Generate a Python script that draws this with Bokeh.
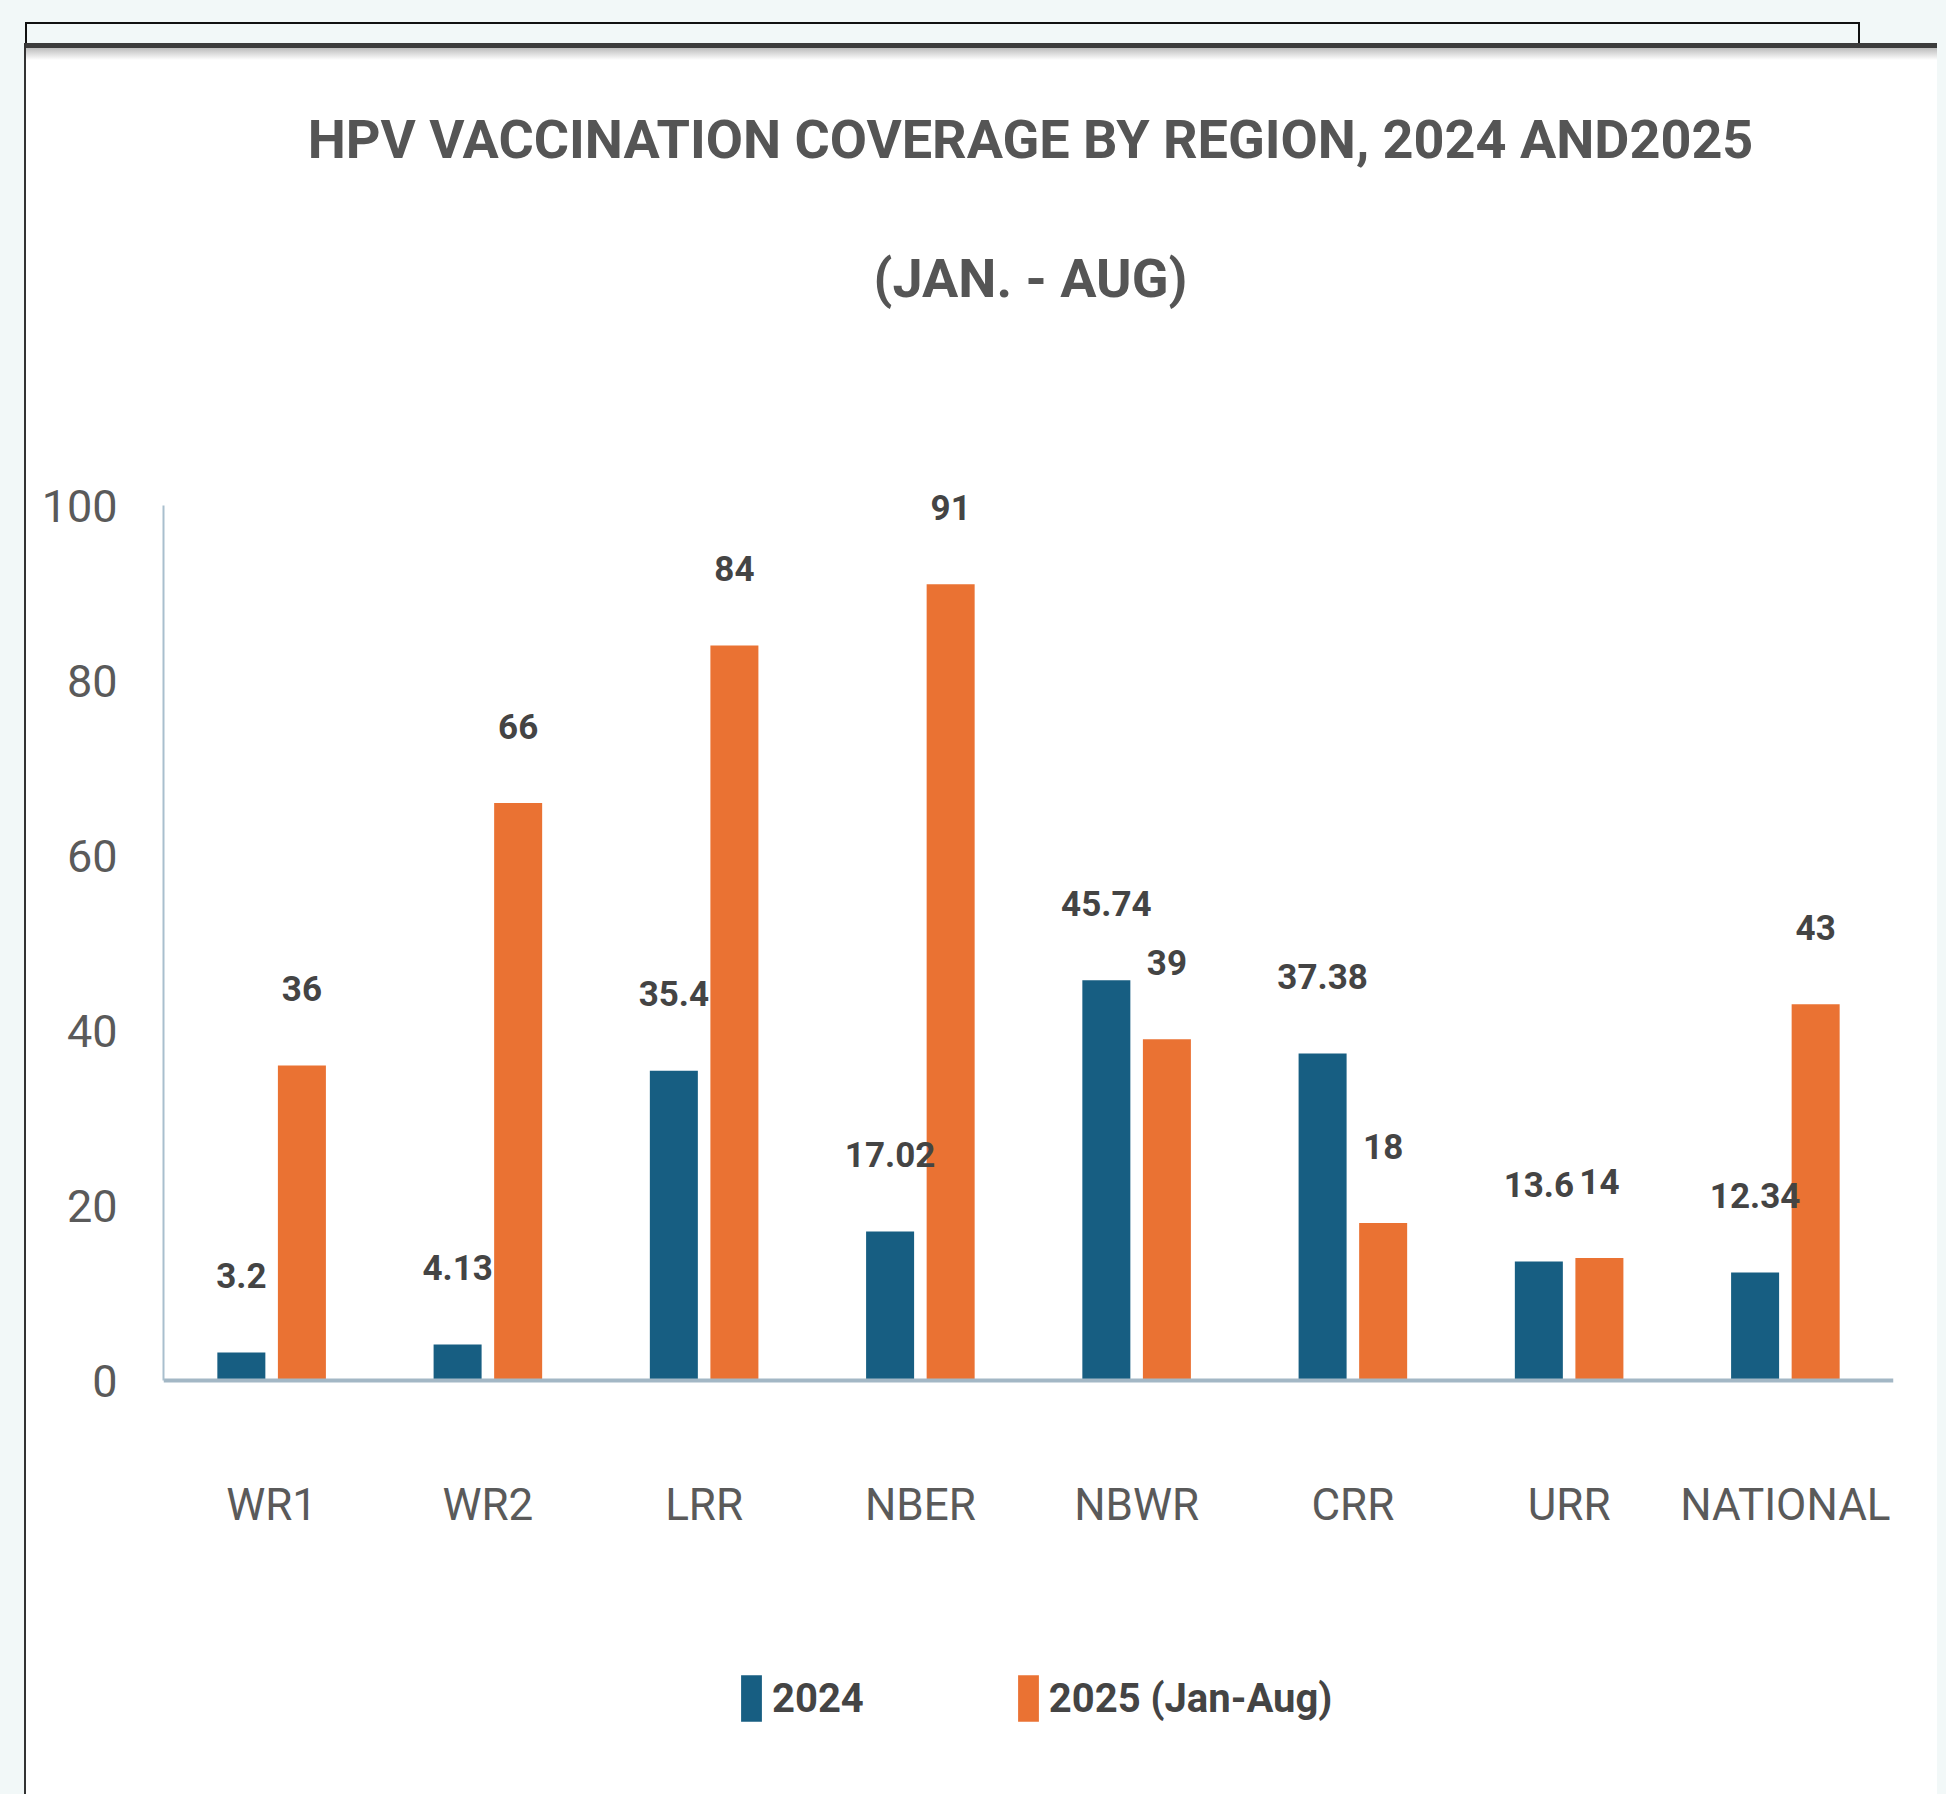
from bokeh.plotting import figure
from bokeh.layouts import column, row
from bokeh.models import ColumnDataSource, FactorRange, Range1d, FixedTicker, Label, Div
from bokeh.transform import dodge
from bokeh.core.properties import value
from bokeh.embed import file_html
from bokeh.resources import INLINE

# ---- data ----
regions = ["WR1", "WR2", "LRR", "NBER", "NBWR", "CRR", "URR", "NATIONAL"]
cov_2024 = [3.2, 4.13, 35.4, 17.02, 45.74, 37.38, 13.6, 12.34]
cov_2025 = [36, 66, 84, 91, 39, 18, 14, 43]
labels_2024 = ["3.2", "4.13", "35.4", "17.02", "45.74", "37.38", "13.6", "12.34"]
labels_2025 = ["36", "66", "84", "91", "39", "18", "14", "43"]
y_ticks = [0, 20, 40, 60, 80, 100]
series_names = ["2024", "2025 (Jan-Aug)"]
title_lines = ["HPV VACCINATION COVERAGE BY REGION, 2024 AND2025", "(JAN. - AUG)"]

# ---- style ----
FONT = "Roboto"
BLUE = "#175e82"
ORANGE = "#ea7233"
PAGE_BG = "#f2f8f8"
GREY_TXT = "#5a5a5a"
TOTAL_W, TOTAL_H = 1946, 1794
TOP_H, LEFT_W, RIGHT_W = 60, 26, 9
MAIN_W, MAIN_H = TOTAL_W - LEFT_W - RIGHT_W, TOTAL_H - TOP_H

# ---- page decorations (plain HTML blocks) ----
top_html = (
    f'<div style="position:absolute;left:0;top:0;width:{TOTAL_W}px;height:43px;background:{PAGE_BG}"></div>'
    f'<div style="position:absolute;left:0;top:0;width:25px;height:{TOP_H}px;background:{PAGE_BG}"></div>'
    f'<div style="position:absolute;left:1937px;top:0;width:9px;height:{TOP_H}px;background:{PAGE_BG}"></div>'
    '<div style="position:absolute;left:25px;top:22px;width:1835px;height:23px;box-sizing:border-box;'
    'border:2px solid #111"></div>'
    '<div style="position:absolute;left:25px;top:48px;width:1912px;height:12px;'
    'background:linear-gradient(#bdbdbd, #ffffff)"></div>'
    '<div style="position:absolute;left:25px;top:43px;width:1912px;height:5px;background:#3c3c3c"></div>'
    f'<div style="position:absolute;left:24px;top:43px;width:2px;height:{TOP_H - 43}px;background:#333"></div>'
)
top_div = Div(text=top_html, width=TOTAL_W, height=TOP_H, margin=0,
              styles={"position": "relative", "background-color": "white", "overflow": "hidden"})
left_div = Div(text="", width=LEFT_W, height=MAIN_H, margin=0,
               styles={"background": f"linear-gradient(to right, {PAGE_BG} 0px, {PAGE_BG} 24px, #333 24px, #333 26px)"})
right_div = Div(text="", width=RIGHT_W, height=MAIN_H, margin=0, styles={"background-color": PAGE_BG})

# ---- main chart ----
# frame spans the whole height of the chart area; the category axis is pinned at y = 0
Y_START, Y_END = -47.31, 150.86
p = figure(x_range=FactorRange(*regions), y_range=Range1d(Y_START, Y_END),
           width=MAIN_W, height=MAIN_H, output_backend="svg", toolbar_location=None, title=None,
           min_border_left=137, min_border_right=44, min_border_top=0, min_border_bottom=0,
           background_fill_color="white", border_fill_color="white", outline_line_color=None)

src = ColumnDataSource(dict(region=regions, v24=cov_2024, v25=cov_2025, l24=labels_2024, l25=labels_2025))

p.vbar(x=dodge("region", -0.14, range=p.x_range), top="v24", bottom=0, width=0.222, source=src,
       fill_color=BLUE, line_color=None, legend_label=series_names[0])
p.vbar(x=dodge("region", 0.14, range=p.x_range), top="v25", bottom=0, width=0.222, source=src,
       fill_color=ORANGE, line_color=None, legend_label=series_names[1])

for off, ycol, tcol in [(-0.14, "v24", "l24"), (0.14, "v25", "l25")]:
    p.text(x=dodge("region", off, range=p.x_range), y=ycol, text=tcol, source=src,
           text_align="center", text_baseline="middle", y_offset=-77,
           text_font=value(FONT), text_font_style="bold", text_font_size="35px", text_color="#444444")

# axes
p.xgrid.visible = False
p.ygrid.visible = False
p.xaxis.fixed_location = 0
p.xaxis.axis_line_color = "#a3b7c5"
p.xaxis.axis_line_width = 4
p.xaxis.major_tick_line_color = None
p.xaxis.minor_tick_line_color = None
p.xaxis.major_tick_out = 0
p.xaxis.major_tick_in = 0
p.xaxis.major_label_text_font = FONT
p.xaxis.major_label_text_font_size = "44px"
p.xaxis.major_label_text_color = GREY_TXT
p.xaxis.major_label_standoff = 98

p.yaxis.ticker = FixedTicker(ticks=y_ticks)
p.yaxis.bounds = (0, 100)
p.yaxis.axis_line_color = "#a9bfce"
p.yaxis.axis_line_width = 2
p.yaxis.major_tick_line_color = None
p.yaxis.minor_tick_line_color = None
p.yaxis.major_tick_out = 0
p.yaxis.major_tick_in = 0
p.yaxis.major_label_text_font = FONT
p.yaxis.major_label_text_font_size = "45px"
p.yaxis.major_label_text_color = GREY_TXT
p.yaxis.major_label_standoff = 46

# titles (inside the frame area, canvas units)
p.add_layout(Label(x=1004, y=79, x_units="canvas", y_units="canvas", text=title_lines[0],
                   text_align="center", text_baseline="middle", text_font=FONT, text_font_style="bold",
                   text_font_size="54px", text_color="#555555"))
p.add_layout(Label(x=1004, y=218, x_units="canvas", y_units="canvas", text=title_lines[1],
                   text_align="center", text_baseline="middle", text_font=FONT, text_font_style="bold",
                   text_font_size="54px", text_color="#555555"))

# legend under the category labels
leg = p.legend[0]
leg.location = (575, 67)
leg.orientation = "horizontal"
leg.glyph_width = 26
leg.glyph_height = 58
leg.label_standoff = 8
leg.spacing = 151
leg.padding = 0
leg.margin = 0
leg.border_line_color = None
leg.background_fill_alpha = 0
leg.label_text_font = FONT
leg.label_text_font_style = "bold"
leg.label_text_font_size = "40px"
leg.label_text_color = "#444444"

layout = column(top_div, row(left_div, p, right_div, spacing=0), spacing=0)
open("out.html", "w").write(file_html(layout, INLINE))
